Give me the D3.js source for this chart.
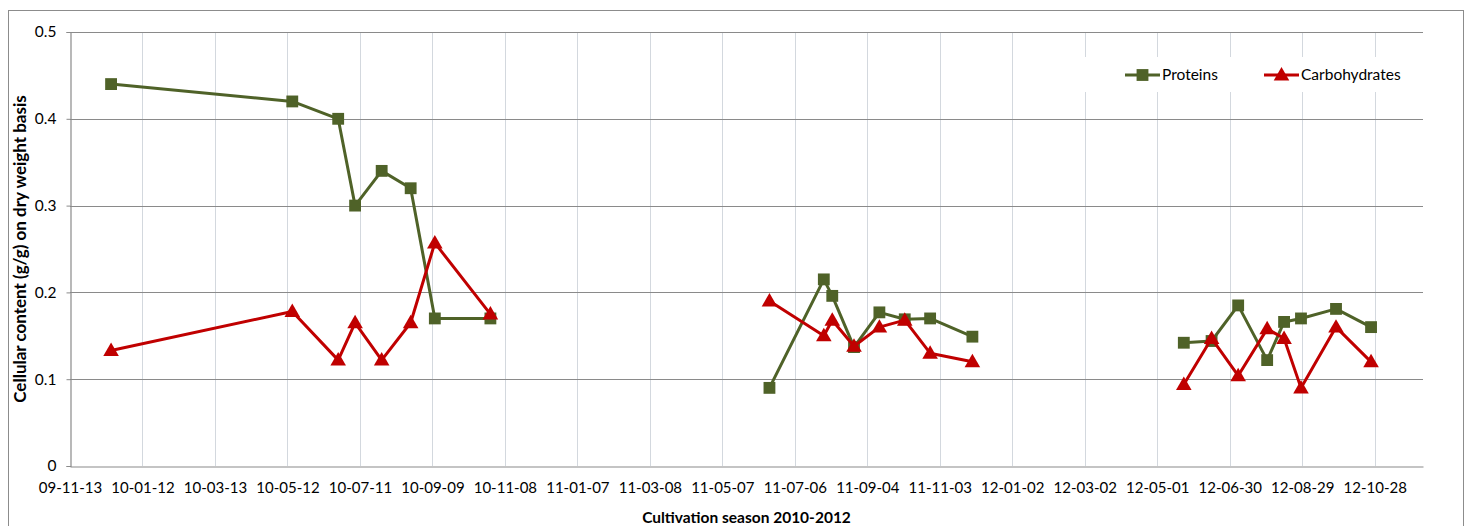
<!DOCTYPE html>
<html>
<head>
<meta charset="utf-8">
<script src="https://cdn.jsdelivr.net/npm/d3@7"></script>
<style>
  html, body { margin: 0; padding: 0; background: #fff; }
  svg { display: block; }
  text { font-family: Lato, "Open Sans", sans-serif; fill: #000; }
</style>
</head>
<body>
<svg id="chart" width="1469" height="526"></svg>
<script>
// Sampling dates, grouped by cultivation campaign
const sampleDates = [
  "2009-12-17", "2010-05-16", "2010-06-23", "2010-07-07", "2010-07-29", "2010-08-22", "2010-09-11", "2010-10-27",
  "2011-06-15", "2011-07-30", "2011-08-06", "2011-08-24", "2011-09-14", "2011-10-05", "2011-10-26", "2011-11-30",
  "2012-05-23", "2012-06-15", "2012-07-07", "2012-07-31", "2012-08-14", "2012-08-28", "2012-09-26", "2012-10-25"
];
const campaign = [
  1, 1, 1, 1, 1, 1, 1, 1,
  2, 2, 2, 2, 2, 2, 2, 2,
  3, 3, 3, 3, 3, 3, 3, 3
];
const proteins = [
  0.44, 0.42, 0.40, 0.30, 0.34, 0.32, 0.17, 0.17,
  0.09, 0.215, 0.196, 0.137, 0.177, 0.169, 0.170, 0.149,
  0.142, 0.144, 0.185, 0.122, 0.166, 0.170, 0.181, 0.160
];
const carbohydrates = [
  0.133, 0.178, 0.122, 0.165, 0.122, 0.165, 0.257, 0.175,
  0.19, 0.15, 0.168, 0.138, 0.16, 0.168, 0.13, 0.12,
  0.094, 0.147, 0.104, 0.158, 0.147, 0.09, 0.16, 0.12
];
// Axis ticks (60-day spacing)
const xTickDates = [
  "2009-11-13", "2010-01-12", "2010-03-13", "2010-05-12", "2010-07-11", "2010-09-09", "2010-11-08",
  "2011-01-07", "2011-03-08", "2011-05-07", "2011-07-06", "2011-09-04", "2011-11-03",
  "2012-01-02", "2012-03-02", "2012-05-01", "2012-06-30", "2012-08-29", "2012-10-28"
];
const yTicks = [0, 0.1, 0.2, 0.3, 0.4, 0.5];
const xDomain = ["2009-11-13", "2012-12-07"];

const parse = d3.utcParse("%Y-%m-%d");
const fmt = d3.utcFormat("%y-%m-%d");

const series = [
  { name: "Proteins", values: proteins, color: "#4F6228", marker: "square" },
  { name: "Carbohydrates", values: carbohydrates, color: "#C00000", marker: "triangle" }
];

const svg = d3.select("#chart");
const plot = { left: 70, right: 1423, top: 32, bottom: 466 };

// Outer chart frame
svg.append("rect")
  .attr("x", 8.5).attr("y", 10.5)
  .attr("width", 1455).attr("height", 540)
  .attr("fill", "#fff").attr("stroke", "#8c8c8c").attr("stroke-width", 1);

const x = d3.scaleUtc()
  .domain(xDomain.map(parse))
  .range([plot.left, plot.right]);
const y = d3.scaleLinear()
  .domain([0, 0.5])
  .range([plot.bottom, plot.top]);

// Vertical gridlines
svg.append("g")
  .selectAll("line")
  .data(xTickDates.slice(1).map(parse))
  .join("line")
  .attr("x1", d => Math.round(x(d)) + 0.5).attr("x2", d => Math.round(x(d)) + 0.5)
  .attr("y1", plot.top).attr("y2", plot.bottom)
  .attr("stroke", "#d3d8de").attr("stroke-width", 1);

// Horizontal gridlines
svg.append("g")
  .selectAll("line")
  .data(yTicks.slice(1))
  .join("line")
  .attr("x1", plot.left).attr("x2", plot.right)
  .attr("y1", d => Math.round(y(d)) + 0.5).attr("y2", d => Math.round(y(d)) + 0.5)
  .attr("stroke", "#8a8a8a").attr("stroke-width", 1.2);

// Y axis
const yAxis = svg.append("g")
  .attr("transform", `translate(${plot.left + 0.5},0)`)
  .call(d3.axisLeft(y).tickValues(yTicks).tickFormat(d => d === 0 ? "0" : d3.format(".1f")(d)).tickSize(4).tickPadding(10));
yAxis.select(".domain").attr("stroke", "#8a8a8a").attr("stroke-width", 1.2);
yAxis.selectAll(".tick line").attr("stroke", "#8a8a8a");
yAxis.selectAll("text").style("font-size", "15.5px").style("font-family", "Lato, sans-serif").attr("fill", "#000");

// X axis
const xAxis = svg.append("g")
  .attr("transform", `translate(0,${Math.round(y(0)) + 0.5})`)
  .call(d3.axisBottom(x).tickValues(xTickDates.map(parse)).tickFormat(fmt).tickSize(0).tickPadding(16));
xAxis.select(".domain").attr("stroke", "#8a8a8a").attr("stroke-width", 1.2);
xAxis.selectAll("text").style("font-size", "15px").style("font-family", "Lato, sans-serif").attr("fill", "#000");

// Series lines and markers
const rows = sampleDates.map((d, i) => ({ date: parse(d), campaign: campaign[i], i }));
const groups = d3.groups(rows, r => r.campaign);

const square = d3.symbol().type(d3.symbolSquare).size(140);
const triangle = d3.symbol().type(d3.symbolTriangle).size(105);

series.forEach(s => {
  const line = d3.line()
    .x(r => x(r.date))
    .y(r => y(s.values[r.i]));
  const g = svg.append("g");
  g.selectAll("path.seg")
    .data(groups)
    .join("path")
    .attr("class", "seg")
    .attr("d", ([, pts]) => line(pts))
    .attr("fill", "none")
    .attr("stroke", s.color)
    .attr("stroke-width", 3)
    .attr("stroke-linejoin", "round");
  g.selectAll("path.mk")
    .data(rows)
    .join("path")
    .attr("class", "mk")
    .attr("transform", r => `translate(${x(r.date)},${y(s.values[r.i]) + (s.marker === "triangle" ? 1 : 0)})`)
    .attr("d", s.marker === "square" ? square() : triangle())
    .attr("fill", s.color);
});

// Legend
const legend = svg.append("g");
legend.append("rect")
  .attr("x", 1080).attr("y", 57).attr("width", 338).attr("height", 35)
  .attr("fill", "#fff");
const legendItems = [
  { s: series[0], x0: 1125 },
  { s: series[1], x0: 1264 }
];
legendItems.forEach(({ s, x0 }) => {
  const ly = 75;
  legend.append("line")
    .attr("x1", x0).attr("x2", x0 + 35)
    .attr("y1", ly).attr("y2", ly)
    .attr("stroke", s.color).attr("stroke-width", 3);
  legend.append("path")
    .attr("transform", `translate(${x0 + 17.5},${ly + (s.marker === "triangle" ? 1 : 0)})`)
    .attr("d", s.marker === "square" ? square() : triangle())
    .attr("fill", s.color);
  legend.append("text")
    .attr("x", x0 + 37).attr("y", ly)
    .attr("dy", "0.35em")
    .style("font-size", "15.5px")
    .text(s.name);
});

// Axis titles
svg.append("text")
  .attr("transform", `translate(26,${(plot.top + plot.bottom) / 2}) rotate(-90)`)
  .attr("text-anchor", "middle")
  .style("font-size", "17px").style("font-weight", "bold")
  .text("Cellular content (g/g) on dry weight basis");

svg.append("text")
  .attr("x", (plot.left + plot.right) / 2).attr("y", 523)
  .attr("text-anchor", "middle")
  .style("font-size", "15.5px").style("font-weight", "bold")
  .text("Cultivation season 2010-2012");
</script>
</body>
</html>
